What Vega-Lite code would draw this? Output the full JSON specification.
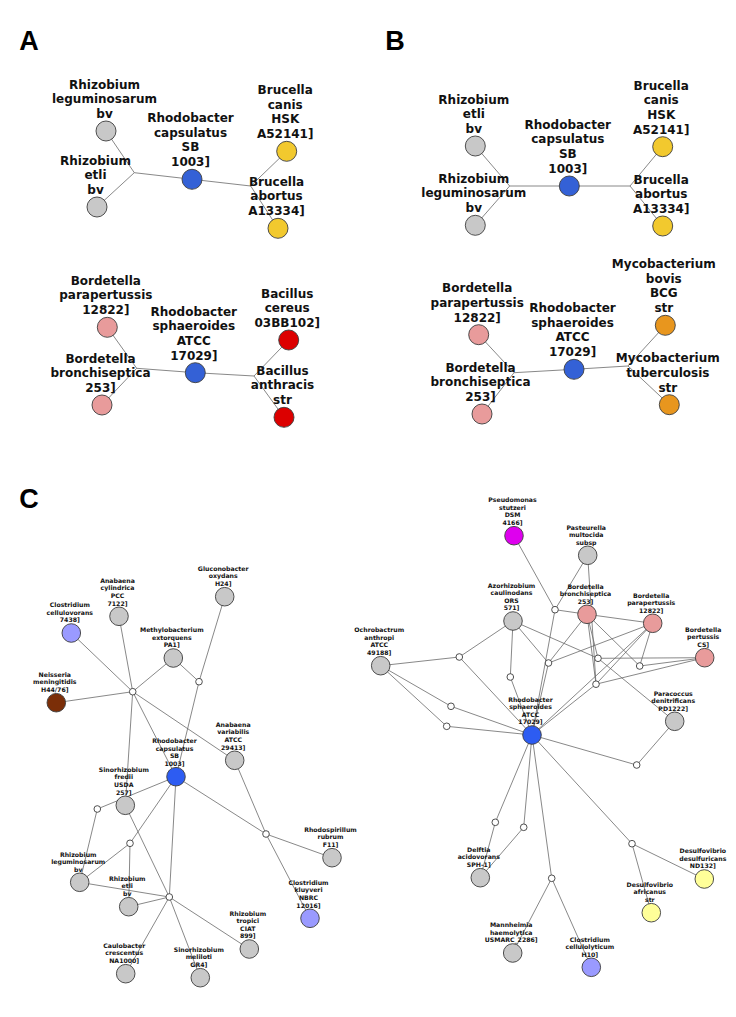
{
  "$schema": "https://vega.github.io/schema/vega-lite/v6.json",
  "width": 736,
  "height": 1017,
  "padding": 0,
  "autosize": "none",
  "background": "white",
  "config": {"view": {"stroke": null}},
  "datasets": {
    "nodes": [
      {"id": "A1", "panel": "A", "kind": "taxonAB", "group": "other", "x": 106, "y": 131, "label": "Rhizobium\nleguminosarum\nbv"},
      {"id": "A2", "panel": "A", "kind": "taxonAB", "group": "other", "x": 97, "y": 207, "label": "Rhizobium\netli\nbv"},
      {"id": "Aj1", "panel": "A", "kind": "bend", "group": "junction", "x": 134.3, "y": 172.7, "label": ""},
      {"id": "A3", "panel": "A", "kind": "taxonAB", "group": "Rhodobacter", "x": 192, "y": 179.3, "label": "Rhodobacter\ncapsulatus\nSB\n1003]"},
      {"id": "Aj2", "panel": "A", "kind": "bend", "group": "junction", "x": 250.7, "y": 186, "label": ""},
      {"id": "A4", "panel": "A", "kind": "taxonAB", "group": "Brucella", "x": 286.7, "y": 151.3, "label": "Brucella\ncanis\nHSK\nA52141]"},
      {"id": "A5", "panel": "A", "kind": "taxonAB", "group": "Brucella", "x": 278, "y": 228.3, "label": "Brucella\nabortus\nA13334]"},
      {"id": "A6", "panel": "A", "kind": "taxonAB", "group": "Bordetella", "x": 107.3, "y": 327.3, "label": "Bordetella\nparapertussis\n12822]"},
      {"id": "A7", "panel": "A", "kind": "taxonAB", "group": "Bordetella", "x": 102, "y": 405, "label": "Bordetella\nbronchiseptica\n253]"},
      {"id": "Aj3", "panel": "A", "kind": "bend", "group": "junction", "x": 136.7, "y": 368.3, "label": ""},
      {"id": "A8", "panel": "A", "kind": "taxonAB", "group": "Rhodobacter", "x": 195.3, "y": 372.7, "label": "Rhodobacter\nsphaeroides\nATCC\n17029]"},
      {"id": "Aj4", "panel": "A", "kind": "bend", "group": "junction", "x": 254, "y": 376, "label": ""},
      {"id": "A9", "panel": "A", "kind": "taxonAB", "group": "Bacillus", "x": 288.7, "y": 340, "label": "Bacillus\ncereus\n03BB102]"},
      {"id": "A10", "panel": "A", "kind": "taxonAB", "group": "Bacillus", "x": 284, "y": 417.3, "label": "Bacillus\nanthracis\nstr"},

      {"id": "B1", "panel": "B", "kind": "taxonAB", "group": "other", "x": 475.3, "y": 146, "label": "Rhizobium\netli\nbv"},
      {"id": "B2", "panel": "B", "kind": "taxonAB", "group": "other", "x": 475.3, "y": 225.3, "label": "Rhizobium\nleguminosarum\nbv"},
      {"id": "Bj1", "panel": "B", "kind": "bend", "group": "junction", "x": 509.7, "y": 186, "label": ""},
      {"id": "B3", "panel": "B", "kind": "taxonAB", "group": "Rhodobacter", "x": 569.3, "y": 186, "label": "Rhodobacter\ncapsulatus\nSB\n1003]"},
      {"id": "Bj2", "panel": "B", "kind": "bend", "group": "junction", "x": 630, "y": 186, "label": ""},
      {"id": "B4", "panel": "B", "kind": "taxonAB", "group": "Brucella", "x": 662.7, "y": 146.7, "label": "Brucella\ncanis\nHSK\nA52141]"},
      {"id": "B5", "panel": "B", "kind": "taxonAB", "group": "Brucella", "x": 662.7, "y": 226, "label": "Brucella\nabortus\nA13334]"},
      {"id": "B6", "panel": "B", "kind": "taxonAB", "group": "Bordetella", "x": 478.7, "y": 334.7, "label": "Bordetella\nparapertussis\n12822]"},
      {"id": "B7", "panel": "B", "kind": "taxonAB", "group": "Bordetella", "x": 482, "y": 414, "label": "Bordetella\nbronchiseptica\n253]"},
      {"id": "Bj3", "panel": "B", "kind": "bend", "group": "junction", "x": 514, "y": 372.7, "label": ""},
      {"id": "B8", "panel": "B", "kind": "taxonAB", "group": "Rhodobacter", "x": 574, "y": 369.3, "label": "Rhodobacter\nsphaeroides\nATCC\n17029]"},
      {"id": "Bj4", "panel": "B", "kind": "bend", "group": "junction", "x": 628, "y": 366, "label": ""},
      {"id": "B9", "panel": "B", "kind": "taxonAB", "group": "Mycobacterium", "x": 665.3, "y": 325.3, "label": "Mycobacterium\nbovis\nBCG\nstr"},
      {"id": "B10", "panel": "B", "kind": "taxonAB", "group": "Mycobacterium", "x": 669.3, "y": 404.7, "label": "Mycobacterium\ntuberculosis\nstr"},

      {"id": "C1", "panel": "C", "kind": "taxonC", "group": "other", "x": 224.7, "y": 596.7, "label": "Gluconobacter\noxydans\nH24]"},
      {"id": "C2", "panel": "C", "kind": "taxonC", "group": "other", "x": 119, "y": 616.3, "label": "Anabaena\ncylindrica\nPCC\n7122]"},
      {"id": "C3", "panel": "C", "kind": "taxonC", "group": "Clostridium", "x": 71.3, "y": 633, "label": "Clostridium\ncellulovorans\n7438]"},
      {"id": "C4", "panel": "C", "kind": "taxonC", "group": "other", "x": 173.3, "y": 658, "label": "Methylobacterium\nextorquens\nPA1]"},
      {"id": "C5", "panel": "C", "kind": "taxonC", "group": "Neisseria", "x": 56.3, "y": 702.7, "label": "Neisseria\nmeningitidis\nH44/76]"},
      {"id": "Ch1", "panel": "C", "kind": "junction", "group": "junction", "x": 132.7, "y": 691.7, "label": ""},
      {"id": "Ch2", "panel": "C", "kind": "junction", "group": "junction", "x": 199, "y": 681.7, "label": ""},
      {"id": "C6", "panel": "C", "kind": "taxonC", "group": "other", "x": 234.7, "y": 760.3, "label": "Anabaena\nvariabilis\nATCC\n29413]"},
      {"id": "C7", "panel": "C", "kind": "taxonC", "group": "RhodobacterC", "x": 176, "y": 776.7, "label": "Rhodobacter\ncapsulatus\nSB\n1003]"},
      {"id": "C8", "panel": "C", "kind": "taxonC", "group": "other", "x": 125.3, "y": 805.3, "label": "Sinorhizobium\nfredii\nUSDA\n257]"},
      {"id": "Ch3", "panel": "C", "kind": "junction", "group": "junction", "x": 97.3, "y": 809, "label": ""},
      {"id": "Ch4", "panel": "C", "kind": "junction", "group": "junction", "x": 130, "y": 843.3, "label": ""},
      {"id": "Ch5", "panel": "C", "kind": "junction", "group": "junction", "x": 266, "y": 834, "label": ""},
      {"id": "Ch6", "panel": "C", "kind": "junction", "group": "junction", "x": 169.3, "y": 897, "label": ""},
      {"id": "C9", "panel": "C", "kind": "taxonC", "group": "other", "x": 332, "y": 857.7, "label": "Rhodospirillum\nrubrum\nF11]"},
      {"id": "C10", "panel": "C", "kind": "taxonC", "group": "other", "x": 79.7, "y": 882.3, "label": "Rhizobium\nleguminosarum\nbv"},
      {"id": "C11", "panel": "C", "kind": "taxonC", "group": "other", "x": 128.7, "y": 906.7, "label": "Rhizobium\netli\nbv"},
      {"id": "C12", "panel": "C", "kind": "taxonC", "group": "Clostridium", "x": 310, "y": 918.3, "label": "Clostridium\nkluyveri\nNBRC\n12016]"},
      {"id": "C13", "panel": "C", "kind": "taxonC", "group": "other", "x": 249.3, "y": 949, "label": "Rhizobium\ntropici\nCIAT\n899]"},
      {"id": "C14", "panel": "C", "kind": "taxonC", "group": "other", "x": 125.7, "y": 973.7, "label": "Caulobacter\ncrescentus\nNA1000]"},
      {"id": "C15", "panel": "C", "kind": "taxonC", "group": "other", "x": 200.3, "y": 977.7, "label": "Sinorhizobium\nmeliloti\nGR4]"},

      {"id": "D1", "panel": "C", "kind": "taxonC", "group": "Pseudomonas", "x": 514, "y": 535.7, "label": "Pseudomonas\nstutzeri\nDSM\n4166]"},
      {"id": "D2", "panel": "C", "kind": "taxonC", "group": "other", "x": 587.7, "y": 555.3, "label": "Pasteurella\nmultocida\nsubsp"},
      {"id": "D3", "panel": "C", "kind": "taxonC", "group": "other", "x": 513, "y": 621, "label": "Azorhizobium\ncaulinodans\nORS\n571]"},
      {"id": "D4", "panel": "C", "kind": "taxonC", "group": "Bordetella", "x": 587, "y": 614.3, "label": "Bordetella\nbronchiseptica\n253]"},
      {"id": "D5", "panel": "C", "kind": "taxonC", "group": "Bordetella", "x": 652.7, "y": 623.3, "label": "Bordetella\nparapertussis\n12822]"},
      {"id": "D6", "panel": "C", "kind": "taxonC", "group": "Bordetella", "x": 704.7, "y": 657.7, "label": "Bordetella\npertussis\nCS]"},
      {"id": "D7", "panel": "C", "kind": "taxonC", "group": "other", "x": 380.7, "y": 665.7, "label": "Ochrobactrum\nanthropi\nATCC\n49188]"},
      {"id": "D8", "panel": "C", "kind": "taxonC", "group": "other", "x": 674.7, "y": 721.3, "label": "Paracoccus\ndenitrificans\nPD1222]"},
      {"id": "D9", "panel": "C", "kind": "taxonC", "group": "RhodobacterC", "x": 532, "y": 735, "label": "Rhodobacter\nsphaeroides\nATCC\n17029]"},
      {"id": "D10", "panel": "C", "kind": "taxonC", "group": "other", "x": 480.3, "y": 877.7, "label": "Delftia\nacidovorans\nSPH-1]"},
      {"id": "D11", "panel": "C", "kind": "taxonC", "group": "other", "x": 512.7, "y": 953, "label": "Mannheimia\nhaemolytica\nUSMARC_2286]"},
      {"id": "D12", "panel": "C", "kind": "taxonC", "group": "Clostridium", "x": 591.3, "y": 967.3, "label": "Clostridium\ncellulolyticum\nH10]"},
      {"id": "D13", "panel": "C", "kind": "taxonC", "group": "Desulfovibrio", "x": 651.3, "y": 912.7, "label": "Desulfovibrio\nafricanus\nstr"},
      {"id": "D14", "panel": "C", "kind": "taxonC", "group": "Desulfovibrio", "x": 704.3, "y": 879, "label": "Desulfovibrio\ndesulfuricans\nND132]"},
      {"id": "s1", "panel": "C", "kind": "junction", "group": "junction", "x": 555, "y": 609.7, "label": ""},
      {"id": "s2", "panel": "C", "kind": "junction", "group": "junction", "x": 459.3, "y": 657, "label": ""},
      {"id": "s3", "panel": "C", "kind": "junction", "group": "junction", "x": 548.5, "y": 663, "label": ""},
      {"id": "s4", "panel": "C", "kind": "junction", "group": "junction", "x": 598, "y": 658.3, "label": ""},
      {"id": "s5", "panel": "C", "kind": "junction", "group": "junction", "x": 639.7, "y": 666, "label": ""},
      {"id": "s6", "panel": "C", "kind": "junction", "group": "junction", "x": 510.3, "y": 677, "label": ""},
      {"id": "s7", "panel": "C", "kind": "junction", "group": "junction", "x": 596, "y": 684.2, "label": ""},
      {"id": "s8", "panel": "C", "kind": "junction", "group": "junction", "x": 451, "y": 706.3, "label": ""},
      {"id": "s9", "panel": "C", "kind": "junction", "group": "junction", "x": 446.7, "y": 726.3, "label": ""},
      {"id": "s10", "panel": "C", "kind": "junction", "group": "junction", "x": 636.7, "y": 765, "label": ""},
      {"id": "s11", "panel": "C", "kind": "junction", "group": "junction", "x": 495.3, "y": 822.3, "label": ""},
      {"id": "s12", "panel": "C", "kind": "junction", "group": "junction", "x": 523.7, "y": 827.3, "label": ""},
      {"id": "s13", "panel": "C", "kind": "junction", "group": "junction", "x": 551.7, "y": 878.3, "label": ""},
      {"id": "s14", "panel": "C", "kind": "junction", "group": "junction", "x": 632, "y": 843.7, "label": ""}
    ],
    "edges": [
      {"s": "A1", "t": "Aj1"}, {"s": "A2", "t": "Aj1"}, {"s": "Aj1", "t": "A3"}, {"s": "A3", "t": "Aj2"}, {"s": "Aj2", "t": "A4"}, {"s": "Aj2", "t": "A5"},
      {"s": "A6", "t": "Aj3"}, {"s": "A7", "t": "Aj3"}, {"s": "Aj3", "t": "A8"}, {"s": "A8", "t": "Aj4"}, {"s": "Aj4", "t": "A9"}, {"s": "Aj4", "t": "A10"},
      {"s": "B1", "t": "Bj1"}, {"s": "B2", "t": "Bj1"}, {"s": "Bj1", "t": "B3"}, {"s": "B3", "t": "Bj2"}, {"s": "Bj2", "t": "B4"}, {"s": "Bj2", "t": "B5"},
      {"s": "B6", "t": "Bj3"}, {"s": "B7", "t": "Bj3"}, {"s": "Bj3", "t": "B8"}, {"s": "B8", "t": "Bj4"}, {"s": "Bj4", "t": "B9"}, {"s": "Bj4", "t": "B10"},
      {"s": "C3", "t": "Ch1"}, {"s": "C2", "t": "Ch1"}, {"s": "C4", "t": "Ch1"}, {"s": "C5", "t": "Ch1"}, {"s": "Ch1", "t": "C8"}, {"s": "Ch1", "t": "C6"}, {"s": "Ch1", "t": "C7"},
      {"s": "C4", "t": "Ch2"}, {"s": "C1", "t": "Ch2"}, {"s": "Ch2", "t": "C7"},
      {"s": "C7", "t": "Ch3"}, {"s": "Ch3", "t": "C10"}, {"s": "C7", "t": "Ch4"}, {"s": "Ch4", "t": "C10"}, {"s": "Ch4", "t": "C11"},
      {"s": "C8", "t": "Ch6"}, {"s": "C7", "t": "Ch6"}, {"s": "C7", "t": "Ch5"}, {"s": "Ch5", "t": "C9"}, {"s": "Ch5", "t": "C12"}, {"s": "C6", "t": "Ch5"},
      {"s": "C10", "t": "Ch6"}, {"s": "C11", "t": "Ch6"}, {"s": "Ch6", "t": "C14"}, {"s": "Ch6", "t": "C15"}, {"s": "Ch6", "t": "C13"},
      {"s": "D1", "t": "s1"}, {"s": "D2", "t": "s1"}, {"s": "D2", "t": "s7"}, {"s": "s1", "t": "D4"}, {"s": "s1", "t": "D9"},
      {"s": "D4", "t": "D5"}, {"s": "D4", "t": "s3"}, {"s": "D4", "t": "s7"}, {"s": "D4", "t": "s5"}, {"s": "D4", "t": "s4"},
      {"s": "D3", "t": "s2"}, {"s": "D3", "t": "s6"}, {"s": "D3", "t": "s3"}, {"s": "D3", "t": "s4"},
      {"s": "D7", "t": "s2"}, {"s": "D7", "t": "s8"}, {"s": "D7", "t": "s9"},
      {"s": "s2", "t": "D9"}, {"s": "s8", "t": "D9"}, {"s": "s9", "t": "D9"}, {"s": "s6", "t": "D9"}, {"s": "s3", "t": "D9"},
      {"s": "s3", "t": "D5"}, {"s": "s4", "t": "D6"}, {"s": "s4", "t": "D8"}, {"s": "s5", "t": "D5"}, {"s": "s5", "t": "D6"},
      {"s": "s7", "t": "D6"}, {"s": "s7", "t": "D5"}, {"s": "s7", "t": "D9"}, {"s": "D9", "t": "D5"},
      {"s": "D9", "t": "s10"}, {"s": "s10", "t": "D8"},
      {"s": "D9", "t": "s11"}, {"s": "s11", "t": "D10"}, {"s": "D9", "t": "s12"}, {"s": "s12", "t": "D10"},
      {"s": "D9", "t": "s13"}, {"s": "s13", "t": "D11"}, {"s": "s13", "t": "D12"},
      {"s": "D9", "t": "s14"}, {"s": "s14", "t": "D13"}, {"s": "s14", "t": "D14"}
    ],
    "letters": [
      {"letter": "A", "x": 29, "y": 42},
      {"letter": "B", "x": 395, "y": 42},
      {"letter": "C", "x": 29, "y": 500}
    ]
  },
  "layer": [
    {
      "data": {"name": "edges"},
      "transform": [
        {"lookup": "s", "from": {"data": {"name": "nodes"}, "key": "id", "fields": ["x", "y"]}, "as": ["sx", "sy"]},
        {"lookup": "t", "from": {"data": {"name": "nodes"}, "key": "id", "fields": ["x", "y"]}, "as": ["tx", "ty"]}
      ],
      "mark": {"type": "rule", "color": "#6a6a6a", "strokeWidth": 0.8},
      "encoding": {
        "x": {"field": "sx", "type": "quantitative", "scale": {"domain": [0, 736], "range": [0, 736], "nice": false, "zero": false}, "axis": null},
        "y": {"field": "sy", "type": "quantitative", "scale": {"domain": [0, 1017], "range": [0, 1017], "nice": false, "zero": false}, "axis": null},
        "x2": {"field": "tx"},
        "y2": {"field": "ty"}
      }
    },
    {
      "data": {"name": "nodes"},
      "transform": [{"filter": "datum.kind != 'bend'"}],
      "mark": {"type": "circle", "opacity": 1, "stroke": "#3c3c3c", "strokeWidth": 0.9},
      "encoding": {
        "x": {"field": "x", "type": "quantitative"},
        "y": {"field": "y", "type": "quantitative"},
        "color": {
          "field": "group", "type": "nominal", "legend": null,
          "scale": {
            "domain": ["other", "Rhodobacter", "RhodobacterC", "Brucella", "Bordetella", "Bacillus", "Mycobacterium", "Clostridium", "Neisseria", "Pseudomonas", "Desulfovibrio", "junction"],
            "range": ["#c8c8c8", "#3461d6", "#2d5cf2", "#f2c92e", "#e89b9b", "#dc0000", "#e8961e", "#9a9aff", "#7b2e08", "#de00ee", "#ffff99", "#ffffff"]
          }
        },
        "size": {
          "condition": [
            {"test": "datum.kind == 'junction'", "value": 44},
            {"test": "datum.kind == 'taxonAB'", "value": 400}
          ],
          "value": 345
        }
      }
    },
    {
      "data": {"name": "nodes"},
      "transform": [{"filter": "datum.panel != 'C' && split(datum.label, '\\n').length == 3"}],
      "mark": {"type": "text", "font": "DejaVu Sans", "fontWeight": "bold", "fontSize": 12, "lineHeight": 14.7, "lineBreak": "\n", "baseline": "alphabetic", "align": "center", "dx": -1.5, "dy": -42.5, "color": "#111111"},
      "encoding": {
        "x": {"field": "x", "type": "quantitative"},
        "y": {"field": "y", "type": "quantitative"},
        "text": {"field": "label"}
      }
    },
    {
      "data": {"name": "nodes"},
      "transform": [{"filter": "datum.panel != 'C' && split(datum.label, '\\n').length == 4"}],
      "mark": {"type": "text", "font": "DejaVu Sans", "fontWeight": "bold", "fontSize": 12, "lineHeight": 14.7, "lineBreak": "\n", "baseline": "alphabetic", "align": "center", "dx": -1.5, "dy": -57.2, "color": "#111111"},
      "encoding": {
        "x": {"field": "x", "type": "quantitative"},
        "y": {"field": "y", "type": "quantitative"},
        "text": {"field": "label"}
      }
    },
    {
      "data": {"name": "nodes"},
      "transform": [{"filter": "datum.panel == 'C' && split(datum.label, '\\n').length == 3"}],
      "mark": {"type": "text", "font": "DejaVu Sans", "fontWeight": "bold", "fontSize": 6.2, "lineHeight": 7.6, "lineBreak": "\n", "baseline": "alphabetic", "align": "center", "dx": -1.5, "dy": -25.8, "color": "#111111"},
      "encoding": {
        "x": {"field": "x", "type": "quantitative"},
        "y": {"field": "y", "type": "quantitative"},
        "text": {"field": "label"}
      }
    },
    {
      "data": {"name": "nodes"},
      "transform": [{"filter": "datum.panel == 'C' && split(datum.label, '\\n').length == 4"}],
      "mark": {"type": "text", "font": "DejaVu Sans", "fontWeight": "bold", "fontSize": 6.2, "lineHeight": 7.6, "lineBreak": "\n", "baseline": "alphabetic", "align": "center", "dx": -1.5, "dy": -33.5, "color": "#111111"},
      "encoding": {
        "x": {"field": "x", "type": "quantitative"},
        "y": {"field": "y", "type": "quantitative"},
        "text": {"field": "label"}
      }
    },
    {
      "data": {"name": "letters"},
      "mark": {"type": "text", "font": "Liberation Sans", "fontWeight": "bold", "fontSize": 27, "baseline": "middle", "align": "center", "color": "#000000"},
      "encoding": {
        "x": {"field": "x", "type": "quantitative"},
        "y": {"field": "y", "type": "quantitative"},
        "text": {"field": "letter"}
      }
    }
  ]
}
